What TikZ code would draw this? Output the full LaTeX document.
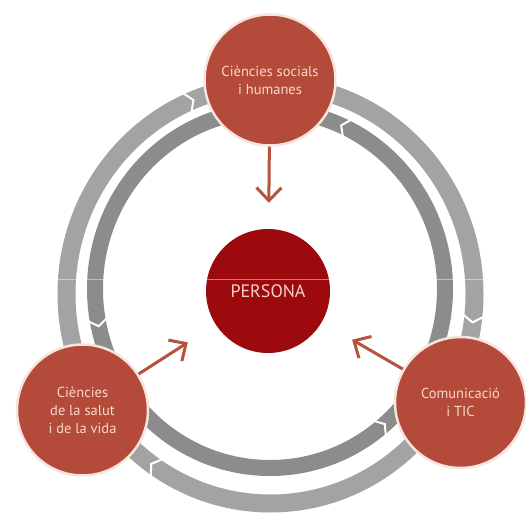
\documentclass[tikz,border=0pt]{standalone}
\usepackage{fontspec}
\setmainfont{PT Sans}
\usetikzlibrary{calc,arrows.meta}

\definecolor{ringout}{HTML}{A3A3A3}
\definecolor{ringin}{HTML}{8C8C8C}
\definecolor{topicfill}{HTML}{B44A3A}
\definecolor{topicedge}{HTML}{F6E4DE}
\definecolor{topictext}{HTML}{F7D8CA}
\definecolor{corefill}{HTML}{9C0A0E}
\definecolor{coretext}{HTML}{F5D2CC}
\definecolor{arrowc}{HTML}{B5533F}

\tikzset{
  topic/.style={circle, fill=topicfill, draw=topicedge, line width=2.5pt,
    minimum size=131pt, inner sep=0pt, align=center, text=topictext,
    font=\fontsize{14.5}{18}\selectfont},
  core/.style={circle, fill=corefill, minimum size=124pt, inner sep=0pt,
    text=coretext, font=\fontsize{18}{20}\selectfont},
  arr/.style={draw=arrowc, line width=3pt,
    -{Straight Barb[length=13pt,width=25pt,line width=3pt]}},
  joint/.style={draw=white, line width=2pt, line join=miter},
}

\begin{document}
\begin{tikzpicture}[x=1pt,y=1pt]
  \useasboundingbox (0,0) rectangle (526,516);
  \fill[white] (0,0) rectangle (526,516);

  % centres of the two rings
  \coordinate (oc) at (270.5,222);
  \coordinate (ic) at (270,227);

  % outer ring (clockwise) and inner ring (counter-clockwise)
  \draw[ringout, line width=18pt] (oc) ellipse [x radius=204, y radius=209.5];
  \draw[ringin, line width=16pt] (ic) ellipse [x radius=175, y radius=179];

  % arrow-shaped joints between the ring segments
  \foreach \a in {114,-6,236} {
    \draw[joint]
      ($(oc)+({214*cos(\a)},{219.5*sin(\a)})$) --
      ($(oc)+({204*cos(\a-1.8)},{209.5*sin(\a-1.8)})$) --
      ($(oc)+({194*cos(\a)},{199.5*sin(\a)})$);
  }
  \foreach \a in {64,190,309} {
    \draw[joint]
      ($(ic)+({184*cos(\a)},{188*sin(\a)})$) --
      ($(ic)+({175*cos(\a+2)},{179*sin(\a+2)})$) --
      ($(ic)+({166*cos(\a)},{170*sin(\a)})$);
  }

  % centre and the three fields
  \node[core] (persona) at (268,225) {PERSONA};
  \node[topic] (soc) at (270,436) {Ciències socials\\i humanes};
  \node[topic] (sal) at (82.5,106) {Ciències\\de la salut\\i de la vida};
  \node[topic] (com) at (460.5,113.5) {Comunicació\\i TIC};

  % arrows towards the centre
  \draw[arr, shorten >=26pt] (soc) -- (persona);
  \draw[arr, shorten >=33pt] (sal) -- (persona);
  \draw[arr, shorten >=35pt] (com) -- (persona);

  % light rule crossing the picture
  \draw[white, opacity=0.45, line width=1pt] (0,236.5) -- (526,236.5);
\end{tikzpicture}
\end{document}
